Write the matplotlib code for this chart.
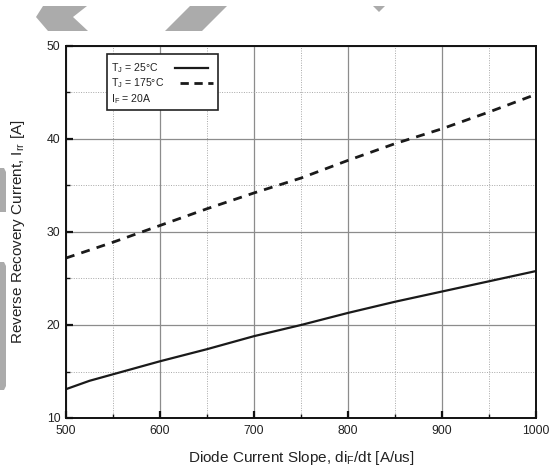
import matplotlib
matplotlib.use("Agg")
import matplotlib.pyplot as plt
from matplotlib.lines import Line2D
from matplotlib.patches import Polygon, Rectangle
from matplotlib.ticker import MultipleLocator

plt.rcParams['font.family'] = ['Liberation Sans', 'DejaVu Sans']
plt.rcParams['mathtext.fontset'] = 'custom'
plt.rcParams['mathtext.rm'] = 'Liberation Sans'
plt.rcParams['mathtext.it'] = 'Liberation Sans:italic'

# Data
di_dt = [500, 525, 550, 600, 650, 700, 750, 800, 850, 900, 950, 1000]
irr_25C = [13.1, 14.0, 14.7, 16.1, 17.4, 18.8, 20.0, 21.3, 22.5, 23.6, 24.7, 25.8]
di_dt_175 = [500, 550, 600, 650, 700, 750, 800, 850, 900, 950, 1000]
irr_175C = [27.2, 28.9, 30.7, 32.5, 34.2, 35.8, 37.7, 39.5, 41.1, 42.9, 44.8]
legend_labels = ["T$_\\mathrm{J}$ = 25°C", "T$_\\mathrm{J}$ = 175°C", "I$_\\mathrm{F}$ = 20A"]
x_label = "Diode Current Slope, di$_\\mathrm{F}$/dt [A/us]"
y_label = "Reverse Recovery Current, I$_\\mathrm{rr}$ [A]"

W, H = 555, 470
fig = plt.figure(figsize=(W / 100, H / 100), dpi=100)
ax = fig.add_axes([66 / W, 1 - 418 / H, 470 / W, 372 / H])

ax.plot(di_dt, irr_25C, color='#1a1a1a', lw=1.6, solid_capstyle='butt')
ax.plot(di_dt_175, irr_175C, color='#1a1a1a', lw=2.0, dashes=(3.2, 2.6))

ax.set_xlim(500, 1000)
ax.set_ylim(10, 50)
ax.xaxis.set_major_locator(MultipleLocator(100))
ax.xaxis.set_minor_locator(MultipleLocator(50))
ax.yaxis.set_major_locator(MultipleLocator(10))
ax.yaxis.set_minor_locator(MultipleLocator(5))
ax.grid(which='major', color='#8c8c8c', lw=0.9, ls='-')
ax.grid(which='minor', color='#a8a8a8', lw=0.7, ls=(0, (1, 1.5)))
ax.set_axisbelow(True)
ax.tick_params(which='major', direction='in', length=5, width=1.6, colors='#111111',
               labelsize=8.8)
ax.tick_params(axis='x', which='major', pad=5)
ax.tick_params(axis='y', which='major', pad=4)
ax.tick_params(which='minor', direction='in', length=3, width=1.0, colors='#111111')
ax.tick_params(axis='both', labelcolor='#222222')
for lbl in ax.get_yticklabels():
    lbl.set_verticalalignment('center_baseline')
for s in ax.spines.values():
    s.set_linewidth(1.4)
    s.set_color('#111111')

ax.set_xlabel(x_label, fontsize=11, color='#222222', labelpad=9)
ax.set_ylabel(y_label, fontsize=11, color='#222222', labelpad=14)

# Legend box (manual, text left, line sample right)
box = Rectangle((107 / W, 1 - 110 / H), 111 / W, 56 / H, transform=fig.transFigure,
                facecolor='white', edgecolor='#222222', lw=1.2, zorder=5)
fig.patches.append(box)
rows_y = [68, 83, 99]
for lab, yy in zip(legend_labels, rows_y):
    fig.text(111 / W, 1 - yy / H, lab, fontsize=7.6, va='center', ha='left', color='#222222', zorder=6)
fig.add_artist(Line2D([175 / W, 208 / W], [1 - 68 / H, 1 - 68 / H], transform=fig.transFigure,
                      color='#1a1a1a', lw=1.6, zorder=6))
fig.add_artist(Line2D([180 / W, 213 / W], [1 - 83 / H, 1 - 83 / H], transform=fig.transFigure,
                      color='#1a1a1a', lw=2.0, dashes=(3.0, 2.0), zorder=6))

# Gray watermark fragments
gray = '#ababab'
def fig_poly(pts):
    p = Polygon([(x / W, 1 - y / H) for x, y in pts], closed=True, transform=fig.transFigure,
                facecolor=gray, edgecolor='none', zorder=0)
    fig.patches.append(p)

fig_poly([(43, 6), (87, 6), (73, 17), (88, 31), (48, 31), (36, 17)])
fig_poly([(190, 6), (227, 6), (202, 31), (165, 31)])
fig_poly([(373, 6), (385, 6), (379, 12)])
fig_poly([(0, 168), (4, 168), (6, 172), (6, 212), (0, 212)])
fig_poly([(0, 262), (4, 262), (6, 266), (6, 386), (4, 390), (0, 390)])

fig.savefig('out.png', dpi=100)
